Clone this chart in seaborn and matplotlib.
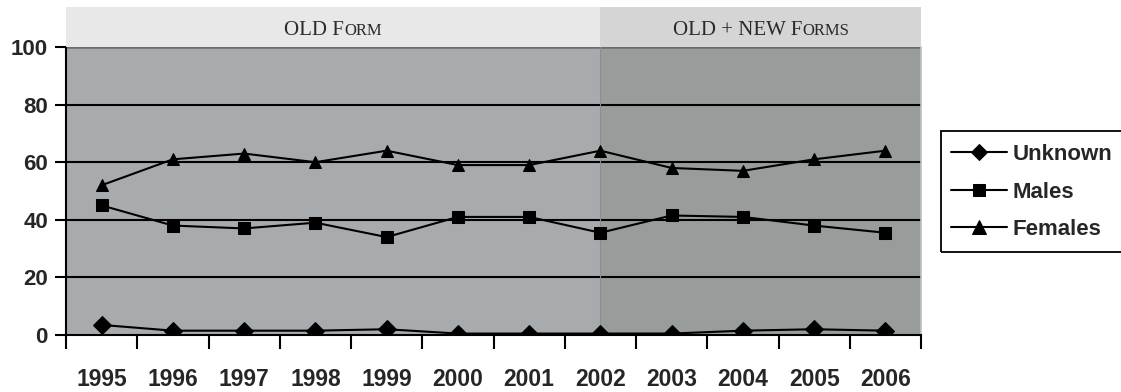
import matplotlib
matplotlib.use('Agg')
import matplotlib.pyplot as plt
import seaborn as sns
import pandas as pd
from matplotlib.patches import Rectangle

# data
years = [1995, 1996, 1997, 1998, 1999, 2000, 2001, 2002, 2003, 2004, 2005, 2006]
unknown = [3.5, 1.5, 1.5, 1.5, 2.0, 0.5, 0.5, 0.5, 0.5, 1.5, 2.0, 1.5]
males = [45, 38, 37, 39, 34, 41, 41, 35.5, 41.5, 41, 38, 35.5]
females = [52, 61, 63, 60, 64, 59, 59, 64, 58, 57, 61, 64]
series_names = ['Unknown', 'Males', 'Females']
split_year = 2002
header_left = ['OLD F', 'ORM']
header_right = ['OLD + NEW F', 'ORMS']

df = pd.DataFrame({
    'Year': years * 3,
    'Value': unknown + males + females,
    'Series': [s for s in series_names for _ in years],
})

sns.set_style('white')
plt.rcParams['font.family'] = ['Liberation Sans', 'DejaVu Sans']

W, H = 1121, 392
fig = plt.figure(figsize=(W / 100, H / 100), dpi=100)
ax = fig.add_axes([66 / W, 1 - 335 / H, (921 - 66) / W, (335 - 47) / H])
hax = fig.add_axes([66 / W, 1 - 47 / H, (921 - 66) / W, (47 - 7) / H])

x0, x1 = years[0] - 0.5, years[-1] + 0.5

# shaded background regions
ax.axvspan(x0, split_year, color='#a8abae', zorder=0, lw=0)
ax.axvspan(split_year, x1, color='#989c9b', zorder=0, lw=0)
for v in [20, 40, 60, 80]:
    ax.axhline(v, color='black', lw=1.5, zorder=1)
ax.axhline(100, color='#6a6a6a', lw=1.8, zorder=1)
ax.axvline(split_year, color='#8c8f90', lw=0.8, zorder=1)

sns.lineplot(data=df, x='Year', y='Value', hue='Series', style='Series',
             palette=['black'] * 3, markers={'Unknown': 'D', 'Males': 's', 'Females': '^'},
             dashes=False, markersize=9, linewidth=1.5, markeredgecolor='black',
             ax=ax, zorder=3)
for line, ms in zip(ax.lines[-3:], [8, 9, 10]):
    line.set_markersize(ms)

ax.set_xlim(x0, x1)
ax.set_ylim(0, 100)
ax.set_xticks(years)
ax.set_xticklabels([str(y) for y in years], fontsize=16.5, fontweight='bold')
ax.set_xticks([y + 0.5 for y in [years[0] - 1] + years], minor=True)
ax.tick_params(axis='x', which='major', length=0, pad=24)
ax.tick_params(axis='x', which='minor', length=10, width=1.5, color='black', direction='out', bottom=True)
ax.set_yticks([0, 20, 40, 60, 80, 100])
ax.set_yticklabels(['0', '20', '40', '60', '80', '100'], fontsize=16, fontweight='bold')
ax.tick_params(axis='y', length=8, width=1.5, color='black', direction='out', left=True, pad=5)
ax.set_xlabel('')
ax.set_ylabel('')
ax.spines['top'].set_visible(False)
ax.spines['right'].set_color('#c0c0c0')
ax.spines['right'].set_linewidth(1.2)
for side in ['left', 'bottom']:
    ax.spines[side].set_color('black')
    ax.spines[side].set_linewidth(1.5)

# legend, with a box running off the right edge like the reference
handles, labels = ax.get_legend_handles_labels()
leg = ax.legend(handles, labels, loc='center left', bbox_to_anchor=(951 / W, 1 - 192 / H),
                bbox_transform=fig.transFigure, frameon=False,
                prop={'size': 16, 'weight': 'bold'}, handlelength=2.5, handletextpad=0.27,
                labelspacing=0.75, borderpad=0, borderaxespad=0)
fig.patches.append(Rectangle((941 / W, 1 - 252 / H), 200 / W, 121 / H, transform=fig.transFigure,
                             facecolor='none', edgecolor='black', lw=1.3))

# header band
hax.set_xlim(x0, x1)
hax.set_ylim(0, 1)
hax.axvspan(x0, split_year, color='#e8e8e8', lw=0)
hax.axvspan(split_year, x1, color='#d5d5d5', lw=0)
hax.axis('off')


def small_caps(axh, xc, parts, big=15, small=12):
    texts = []
    for i, p in enumerate(parts):
        texts.append(axh.text(0, 0.3, p, fontsize=big if i % 2 == 0 else small,
                              family=['Liberation Serif', 'DejaVu Serif'], color='#2a2a2a',
                              ha='left', va='baseline', transform=axh.transData))
    fig.canvas.draw()
    r = fig.canvas.get_renderer()
    widths = [t.get_window_extent(r).width for t in texts]
    px_per_unit = axh.transData.transform((1, 0))[0] - axh.transData.transform((0, 0))[0]
    total = sum(widths) / px_per_unit
    x = xc - total / 2
    for t, w in zip(texts, widths):
        t.set_x(x)
        x += w / px_per_unit


small_caps(hax, (x0 + split_year) / 2, header_left)
small_caps(hax, (split_year + x1) / 2, header_right)

fig.savefig('out.png', dpi=100, facecolor='white')
